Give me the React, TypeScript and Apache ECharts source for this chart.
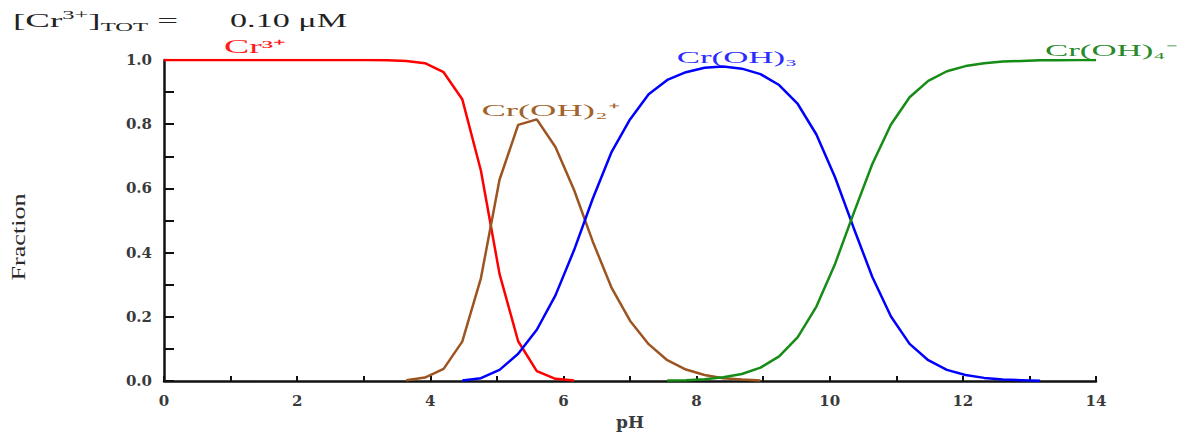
import React, { useEffect, useRef } from "react";
import * as echarts from "echarts";

const pH = [0, 0.28, 0.56, 0.84, 1.12, 1.4, 1.68, 1.96, 2.24, 2.52, 2.8, 3.08, 3.36, 3.64, 3.92, 4.2, 4.48, 4.76, 5.04, 5.32, 5.6, 5.88, 6.16, 6.44, 6.72, 7, 7.28, 7.56, 7.84, 8.12, 8.4, 8.68, 8.96, 9.24, 9.52, 9.8, 10.08, 10.36, 10.64, 10.92, 11.2, 11.48, 11.76, 12.04, 12.32, 12.6, 12.88, 13.16, 13.44, 13.72, 14];

const crIII = [1, 1, 1, 1, 1, 1, 1, 1, 1, 1, 1, 1, 0.999, 0.997, 0.99, 0.962, 0.878, 0.656, 0.334, 0.124, 0.031, 0.007, 0.002,
  null, null, null, null, null, null, null, null, null, null, null, null, null, null, null, null, null, null, null, null, null, null, null, null, null, null, null, null];

const crOH2 = [null, null, null, null, null, null, null, null, null, null, null, null, null,
  0.003, 0.011, 0.038, 0.123, 0.32, 0.627, 0.798, 0.815, 0.729, 0.595, 0.435, 0.292, 0.188, 0.115, 0.065, 0.036, 0.019, 0.009, 0.005, 0.002,
  null, null, null, null, null, null, null, null, null, null, null, null, null, null, null, null, null, null];

const crOH3 = [null, null, null, null, null, null, null, null, null, null, null, null, null, null, null, null,
  0.002, 0.009, 0.035, 0.085, 0.16, 0.267, 0.408, 0.568, 0.712, 0.815, 0.893, 0.938, 0.962, 0.976, 0.98, 0.973, 0.956, 0.922, 0.863, 0.768, 0.635, 0.477, 0.324, 0.201, 0.116, 0.065, 0.035, 0.019, 0.01, 0.005, 0.003, 0.001,
  null, null, null];

const crOH4 = [null, null, null, null, null, null, null, null, null, null, null, null, null, null, null, null, null, null, null, null, null, null, null, null, null, null, null,
  0.002, 0.003, 0.006, 0.012, 0.022, 0.042, 0.077, 0.137, 0.232, 0.365, 0.523, 0.676, 0.799, 0.884, 0.935, 0.965, 0.981, 0.99, 0.995, 0.997, 0.999, 0.999, 1, 1];

const xTickLabels = ["0", "2", "4", "6", "8", "10", "12", "14"];
const yTickLabels = ["0.0", "0.2", "0.4", "0.6", "0.8", "1.0"];
const seriesNames = ["Cr³⁺", "Cr(OH)₂⁺", "Cr(OH)₃", "Cr(OH)₄⁻"];
const lineColors = ["#ff0000", "#9c5420", "#0000ff", "#158c15"];

const toPairs = (ys: (number | null)[]) =>
  pH.map((x, i) => (ys[i] == null ? null : [x, ys[i]])).filter((p) => p !== null);

export default function App() {
  const ref = useRef<HTMLDivElement>(null);
  useEffect(() => {
    if (!ref.current) return;
    const chart = echarts.init(ref.current, undefined, { renderer: "svg" });
    const axisColor = "#111";
    const tickFont = { fontFamily: "DejaVu Serif", fontSize: 15, fontWeight: "bold" as const, color: "#3a3a3a" };
    const serif = '"Liberation Serif", "Times New Roman", serif';
    const datasets = [crIII, crOH2, crOH3, crOH4];
    chart.setOption({
      animation: false,
      backgroundColor: "#ffffff",
      grid: { left: 164, right: 95, top: 60, bottom: 49 },
      xAxis: {
        type: "value",
        min: 0,
        max: 14,
        interval: 2,
        name: "pH",
        nameLocation: "middle",
        nameGap: 30,
        nameTextStyle: { fontFamily: "DejaVu Serif", fontSize: 17, fontWeight: "bold", color: "#3a3a3a" },
        axisLine: { show: true, onZero: false, lineStyle: { color: axisColor, width: 2.5 } },
        axisTick: { show: true, inside: true, length: 5, lineStyle: { color: axisColor, width: 2 } },
        minorTick: { show: true, splitNumber: 2, length: 5, lineStyle: { color: axisColor, width: 2 } },
        axisLabel: { ...tickFont, margin: 12, formatter: (v: number) => xTickLabels[Math.round(v / 2)] },
        splitLine: { show: false },
      },
      yAxis: {
        type: "value",
        min: 0,
        max: 1,
        interval: 0.2,
        axisLine: { show: true, onZero: false, lineStyle: { color: axisColor, width: 2.5 } },
        axisTick: { show: true, inside: true, length: 10, lineStyle: { color: axisColor, width: 2 } },
        minorTick: { show: true, splitNumber: 2, length: 10, lineStyle: { color: axisColor, width: 2 } },
        axisLabel: { ...tickFont, margin: 12, formatter: (v: number) => yTickLabels[Math.round(v / 0.2)] },
        splitLine: { show: false },
      },
      series: datasets.map((ys, i) => ({
        type: "line",
        name: seriesNames[i],
        data: toPairs(ys),
        showSymbol: false,
        smooth: false,
        lineStyle: { color: lineColors[i], width: 2.5 },
        itemStyle: { color: lineColors[i] },
        z: 3,
      })),
      graphic: [
        {
          type: "text",
          x: 13,
          y: 21,
          scaleX: 2.05,
          style: {
            text: "{n|[Cr}{sup|3+}{n|]}{sub|TOT}{n| =}",
            fill: "#222",
            textVerticalAlign: "middle",
            rich: {
              n: { fontFamily: serif, fontSize: 18, lineHeight: 24, color: "#222" },
              sup: { fontFamily: serif, fontSize: 12, lineHeight: 14, verticalAlign: "top", color: "#222" },
              sub: { fontFamily: serif, fontSize: 12, lineHeight: 12, verticalAlign: "bottom", color: "#222" },
            },
          },
        },
        {
          type: "text",
          x: 230,
          y: 21,
          scaleX: 1.9,
          style: { text: "0.10 μM", font: `18px ${serif}`, fill: "#222", textVerticalAlign: "middle" },
        },
        {
          type: "text",
          x: 19,
          y: 237,
          rotation: Math.PI / 2,
          scaleX: 1.45,
          style: { text: "Fraction", font: `18px ${serif}`, fill: "#2a2a2a", textAlign: "center", textVerticalAlign: "middle" },
        },
        {
          type: "text", x: 255, y: 47, scaleX: 2.1,
          style: { text: seriesNames[0], font: `18px ${serif}`, fill: "#ff1a1a", textAlign: "center", textVerticalAlign: "middle" },
        },
        {
          type: "text", x: 551, y: 110, scaleX: 2.15,
          style: { text: seriesNames[1], font: `17px ${serif}`, fill: "#a2622c", textAlign: "center", textVerticalAlign: "middle" },
        },
        {
          type: "text", x: 737, y: 57, scaleX: 2.05,
          style: { text: seriesNames[2], font: `17px ${serif}`, fill: "#2b2bff", textAlign: "center", textVerticalAlign: "middle" },
        },
        {
          type: "text", x: 1111, y: 50, scaleX: 2.05,
          style: { text: seriesNames[3], font: `17px ${serif}`, fill: "#2a8a2a", textAlign: "center", textVerticalAlign: "middle" },
        },
      ],
    });
    return () => chart.dispose();
  }, []);
  return (
    <div
      ref={ref}
      style={{ position: "absolute", left: 0, top: 0, width: 1191, height: 435, background: "#fff" }}
    />
  );
}
